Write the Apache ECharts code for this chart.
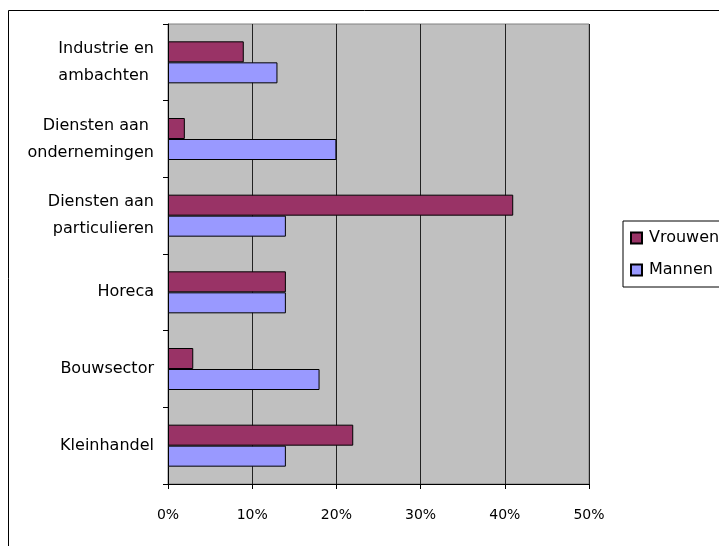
<!DOCTYPE html>
<html>
<head>
<meta charset="utf-8">
<script src="https://cdn.jsdelivr.net/npm/echarts@6/dist/echarts.min.js"></script>
<style>html,body{margin:0;padding:0;background:#fff}#c{width:719px;height:546px}</style>
</head>
<body>
<div id="c"></div>
<script>
// Categories listed bottom to top
const categories = ["Kleinhandel", "Bouwsector", "Horeca", "Diensten aan\nparticulieren", "Diensten aan \nondernemingen", "Industrie en\nambachten "];
const vrouwen = [22, 3, 14, 41, 2, 9];
const mannen = [14, 18, 14, 14, 20, 13];
const seriesNames = ["Vrouwen", "Mannen"];
const xTicks = { min: 0, max: 50, interval: 10 };

const chart = echarts.init(document.getElementById('c'), null, { renderer: 'canvas' });
const font = 'DejaVu Sans';
chart.setOption({
  animation: false,
  backgroundColor: '#fff',
  graphic: [{
    type: 'rect', silent: true, z: -10,
    shape: { x: 8.5, y: 10.5, width: 800, height: 600 },
    style: { fill: 'none', stroke: '#000', lineWidth: 1 }
  }],
  grid: {
    left: 168, top: 24, width: 421, height: 460,
    show: true, backgroundColor: '#C0C0C0', borderColor: '#808080', borderWidth: 1,
    outerBoundsMode: 'none', containLabel: false
  },
  legend: {
    orient: 'vertical', left: 623, top: 221,
    data: seriesNames,
    backgroundColor: '#fff', borderColor: '#000', borderWidth: 1,
    padding: [7, 20, 7, 7], itemGap: 12, itemWidth: 11, itemHeight: 11,
    icon: 'rect',
    textStyle: { fontFamily: font, fontSize: 16, color: '#000', lineHeight: 20, padding: [0, 0, 0, 2] }
  },
  xAxis: {
    type: 'value', min: xTicks.min, max: xTicks.max, interval: xTicks.interval,
    axisLine: { show: true, lineStyle: { color: '#000', width: 1 } },
    axisTick: { show: true, length: 5, lineStyle: { color: '#000' } },
    splitLine: { show: true, lineStyle: { color: '#222', width: 1 } },
    axisLabel: { formatter: '{value}%', fontFamily: font, fontSize: 14, color: '#000', margin: 24 }
  },
  yAxis: {
    type: 'category', data: categories,
    axisLine: { show: true, lineStyle: { color: '#000', width: 1 } },
    axisTick: { show: true, length: 5, lineStyle: { color: '#000' }, alignWithLabel: false },
    axisLabel: { fontFamily: font, fontSize: 16, color: '#000', margin: 14, lineHeight: 27, align: 'right' },
    splitLine: { show: false }
  },
  series: [
    {
      name: seriesNames[0], type: 'bar', data: vrouwen, barWidth: 21, barGap: '0%',
      itemStyle: { color: '#993366', borderColor: '#000', borderWidth: 1 }
    },
    {
      name: seriesNames[1], type: 'bar', data: mannen, barWidth: 21, barGap: '0%',
      itemStyle: { color: '#9999FF', borderColor: '#000', borderWidth: 1 }
    }
  ]
});
</script>
</body>
</html>
